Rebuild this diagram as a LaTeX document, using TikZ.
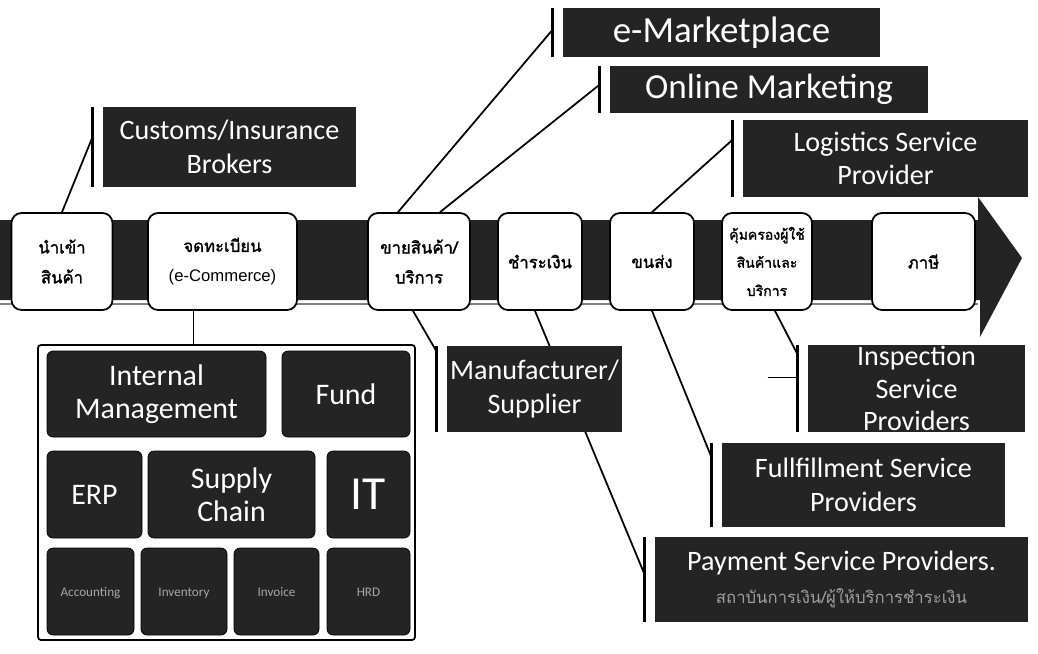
\documentclass[tikz,border=0pt]{standalone}
\usepackage{fontspec}
\usetikzlibrary{backgrounds}
\setmainfont{Carlito}
\newfontfamily\thaifont[Script=Thai]{Loma}
\newfontfamily\thaibold[Script=Thai,FakeBold=1.6]{Loma}
\newfontfamily\arialfont{Liberation Sans}
\definecolor{ink}{HTML}{242424}
\newcommand{\px}{0.02cm}
\tikzset{
  darkbox/.style={fill=ink, text=white, align=center, inner sep=0pt},
  stepbox/.style={draw=black, line width=1pt, fill=white, rounded corners=0.2cm,
    align=center, inner sep=0pt, minimum height=97*\px,
    font=\thaibold\fontsize{9.5}{17}\selectfont},
  tile/.style={darkbox, draw=black, rounded corners=0.12cm},
  small/.style={tile, text=gray!70, text height=1.4ex, text depth=0.3ex,
    minimum height=87*\px, font=\fontsize{7.5}{9}\selectfont},
  bar/.style={line width=1.6pt},
  link/.style={line width=1pt},
}
\begin{document}
\begin{tikzpicture}[x=0.02cm,y=-0.02cm]
\useasboundingbox (0,0) rectangle (1038,653);

% The dark arrow and its head
% Draw this first so the steps sit on it
\fill[ink] (0,220) -- (978,220) -- (978,197) -- (1022,258) -- (980,337) -- (980,300) -- (0,300) -- cycle;
\draw[gray,line width=1pt] (0,304) -- (978,304);

% The steps along the arrow
\node[stepbox,minimum width=101*\px] (imp) at (62,261.5) {นำเข้า\\สินค้า};
\node[stepbox,minimum width=149*\px] (reg) at (222.5,261.5) {จดทะเบียน\\{\arialfont (e-Commerce)}};
\node[stepbox,minimum width=102*\px] (sell) at (419,261.5) {ขายสินค้า/\\บริการ};
\node[stepbox,minimum width=84*\px] (paid) at (540,261.5) {ชำระเงิน};
\node[stepbox,minimum width=84*\px] (ship) at (652,261.5) {ขนส่ง};
\node[stepbox,minimum width=90*\px,font=\thaibold\fontsize{8}{16}\selectfont] (prot) at (767,261.5) {คุ้มครองผู้ใช้\\สินค้าและ\\บริการ};
\node[stepbox,minimum width=103*\px] (tax) at (923.5,261.5) {ภาษี};

% The service providers above the arrow
\node[darkbox,minimum width=253*\px,minimum height=80*\px,font=\fontsize{16}{19}\selectfont] (cust) at (229.5,147) {Customs/Insurance\\Brokers};
\node[darkbox,minimum width=317*\px,minimum height=49*\px,font=\fontsize{21}{24}\selectfont] (emkt) at (721.5,32.5) {e-Marketplace};
\node[darkbox,minimum width=318*\px,minimum height=47*\px,font=\fontsize{20}{24}\selectfont] (onl) at (769,89.5) {Online Marketing};
\node[darkbox,minimum width=285*\px,minimum height=77*\px,font=\fontsize{16}{19}\selectfont] (logi) at (885.5,158.5) {Logistics Service\\Provider};

% The service providers below the arrow
\node[darkbox,minimum width=175*\px,minimum height=86*\px,font=\fontsize{16}{19}\selectfont] (manu) at (534.5,389) {Manufacturer/\\Supplier};
\node[darkbox,minimum width=217*\px,minimum height=87*\px,font=\fontsize{16}{18.5}\selectfont] (insp) at (916.5,388.5) {Inspection\\Service\\Providers};
\node[darkbox,minimum width=283*\px,minimum height=84*\px,font=\fontsize{16}{19}\selectfont] (fulf) at (863.5,485) {Fullfillment Service\\Providers};
\node[darkbox,minimum width=373*\px,minimum height=85*\px,font=\fontsize{16}{19}\selectfont] (pay) at (841.5,579.5) {Payment Service Providers.\\{\color{gray!75}\thaifont\fontsize{9.5}{11}\selectfont สถาบันการเงิน/ผู้ให้บริการชำระเงิน}};

% The bars in front of the providers
\foreach \p in {cust,emkt,onl,logi,manu,insp,fulf,pay}
  \draw[bar] ([shift={(-10,0)}]\p.north west) -- ([shift={(-10,0)}]\p.south west);

% The links from the steps to the providers
\draw[link] (imp.north) -- ([shift={(-10,30)}]cust.north west);
\draw[link] ([shift={(-21,0)}]sell.north) -- ([shift={(-10,22)}]emkt.north west);
\draw[link] ([shift={(21,0)}]sell.north) -- ([shift={(-10,19)}]onl.north west);
\draw[link] (ship.north) -- ([shift={(-10,20)}]logi.north west);
\draw[link] ([shift={(-6,0)}]sell.south) -- ([shift={(-10,6)}]manu.north west);
\draw[link] (ship.south) -- ([shift={(-10,15)}]fulf.north west);
\draw[link] ([shift={(8,0)}]prot.south) -- ([shift={(-10,10)}]insp.north west);
\draw[link] ([shift={(-40,-11)}]insp.west) -- ([shift={(-10,-11)}]insp.west);

% The link from paying to the payment providers, under the manufacturer box
\begin{scope}[on background layer]
\draw[link] ([shift={(-5,0)}]paid.south) -- ([shift={(-10,38)}]pay.north west);
\end{scope}

% The internal panel under the register step
\node[draw,line width=1pt,rounded corners=0.06cm,minimum width=377*\px,minimum height=295*\px] (panel) at (226.5,492.5) {};
\draw[link] ([shift={(-29,0)}]reg.south) -- ([shift={(-29,0)}]reg.south |- panel.north);

% The tiles of the panel
\node[tile,minimum width=219*\px,minimum height=86*\px,font=\fontsize{17}{19}\selectfont] (intm) at (156.5,394) {Internal\\Management};
\node[tile,minimum width=128*\px,minimum height=86*\px,font=\fontsize{17}{19}\selectfont] (fund) at (346,394) {Fund};
\node[tile,minimum width=95*\px,minimum height=87*\px,font=\fontsize{17}{19}\selectfont] (erp) at (94.5,494.5) {ERP};
\node[tile,minimum width=167*\px,minimum height=87*\px,font=\fontsize{17}{19}\selectfont] (supc) at (231.5,494.5) {Supply\\Chain};
\node[tile,minimum width=83*\px,minimum height=87*\px,font=\fontsize{27}{29}\selectfont] (it) at (368.5,494.5) {IT};
\node[small,minimum width=87*\px] (acc) at (90.5,591.5) {Accounting};
\node[small,minimum width=86*\px] (inv) at (184,591.5) {Inventory};
\node[small,minimum width=85*\px] (invc) at (276.5,591.5) {Invoice};
\node[small,minimum width=83*\px] (hrd) at (368.5,591.5) {HRD};
\end{tikzpicture}
\end{document}
